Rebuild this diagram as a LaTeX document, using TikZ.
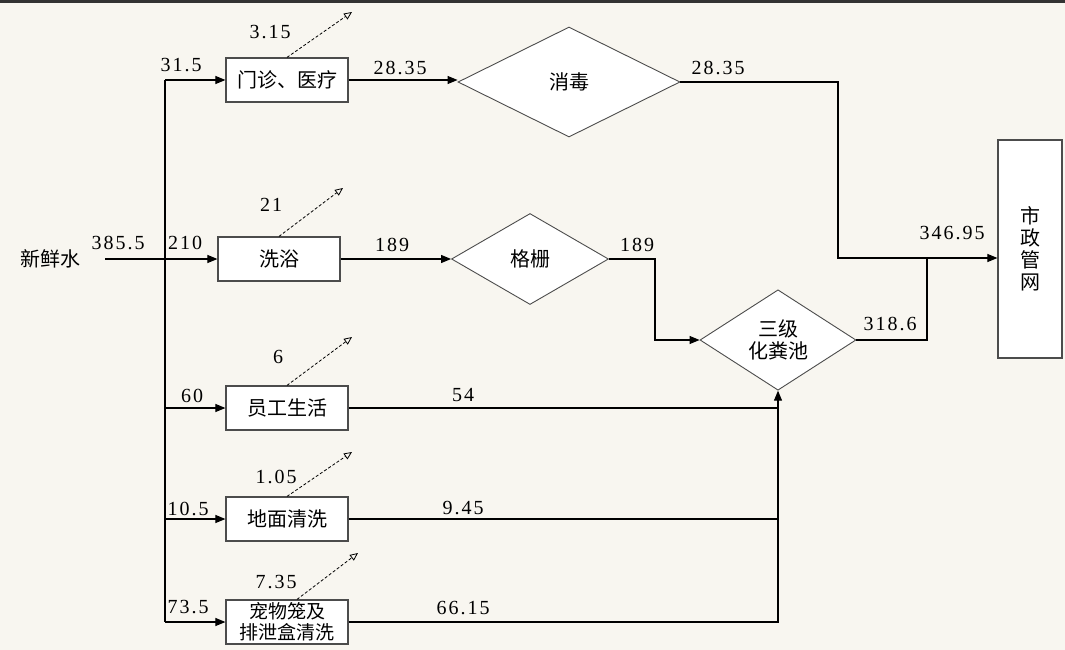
\documentclass[tikz,border=0pt]{standalone}
\usepackage{fontspec}
\setmainfont{Liberation Serif}
\newfontfamily\cjk{Noto Sans CJK SC}
\usetikzlibrary{shapes.geometric,arrows.meta}
\begin{document}
\begin{tikzpicture}[x=1pt,y=-1pt,
  every node/.style={inner sep=0pt},
  proc/.style={draw=black!70, line width=1.2pt, fill=white, minimum width=122pt, minimum height=44pt, font=\cjk\fontsize{20}{22}\selectfont, align=center},
  dia/.style={diamond, draw=black!70, line width=0.9pt, fill=white, font=\cjk\fontsize{20}{22}\selectfont, align=center},
  num/.style={font=\fontsize{20}{22}\selectfont\addfontfeature{LetterSpace=10}},
  flow/.style={line width=1.1pt, -{Triangle[length=10pt,width=8pt]}},
  pipe/.style={line width=1.1pt},
  loss/.style={line width=0.8pt, dashed, dash pattern=on 3pt off 2pt, -{Triangle[open,length=8pt,width=7pt]}}
]
\useasboundingbox (0,0) rectangle (1065,650);
\fill[fill={rgb,255:red,248;green,246;blue,240}] (0,0) rectangle (1065,650);
\fill[black!80] (0,0) rectangle (1065,3);

% nodes
\node[font=\cjk\fontsize{20}{22}\selectfont] (src) at (50,259) {新鲜水};
\node[proc] (mz) at (287,80) {门诊、医疗};
\node[proc] (xy) at (279,259) {洗浴};
\node[proc] (yg) at (287,408) {员工生活};
\node[proc] (dm) at (287,519) {地面清洗};
\node[proc, font=\cjk\fontsize{19}{21}\selectfont] (cw) at (287,622) {宠物笼及\\排泄盒清洗};
\node[dia, minimum width=222pt, minimum height=110pt] (xd) at (569,82) {消毒};
\node[dia, minimum width=157pt, minimum height=91pt] (gs) at (530,259) {格栅};
\node[dia, minimum width=156pt, minimum height=93pt] (hf) at (778,340) {三级\\化粪池};
\node[draw=black!70, line width=1.2pt, fill=white, minimum width=64pt, minimum height=218pt, font=\cjk\fontsize{20}{22}\selectfont, align=center] (sz) at (1030,249) {市\\政\\管\\网};

% coordinates
\coordinate (in) at (105,259);
\coordinate (t1) at (165,80);
\coordinate (t5) at (165,622);
\coordinate (j1) at (838,82);
\coordinate (j2) at (927,258);
\coordinate (g1) at (655,259);
\coordinate (c1) at (778,622);
\coordinate (d1) at (352,12);
\coordinate (d2) at (343,188);
\coordinate (d3) at (352,337);
\coordinate (d4) at (352,452);
\coordinate (d5) at (358,553);

% connectors
\draw[pipe] (t1) -- (t5);
\draw[flow] (in) -- (xy.west);
\draw[flow] (t1) -- (mz.west);
\draw[flow] (yg.west -| t1) -- (yg.west);
\draw[flow] (dm.west -| t1) -- (dm.west);
\draw[flow] (t5) -- (cw.west);
\draw[flow] (mz.east) -- (xd.west |- mz.east);
\draw[flow] (xy.east) -- (gs.west);
\draw[flow] (xd.east) -- (j1) |- (sz.west |- j2);
\draw[flow] (gs.east) -- (g1) |- (hf.west);
\draw[pipe] (hf.east) -| (j2);
\draw[pipe] (yg.east) -- (yg.east -| c1);
\draw[pipe] (dm.east) -- (dm.east -| c1);
\draw[flow] (cw.east) -- (c1) -- (hf.south);
\draw[loss] (mz.north) -- (d1);
\draw[loss] (xy.north) -- (d2);
\draw[loss] (yg.north) -- (d3);
\draw[loss] (dm.north) -- (d4);
\draw[loss] ([xshift=10pt]cw.north) -- (d5);

% labels
\node[num] (l1) at (181,65) {31.5};
\node[num] (l2) at (270,32) {3.15};
\node[num] (l3) at (400,68) {28.35};
\node[num] (l4) at (718,68) {28.35};
\node[num] (l5) at (118,243) {385.5};
\node[num] (l6) at (185,243) {210};
\node[num] (l7) at (271,205) {21};
\node[num] (l8) at (392,245) {189};
\node[num] (l9) at (637,245) {189};
\node[num] (l10) at (952,233) {346.95};
\node[num] (l11) at (890,324) {318.6};
\node[num] (l12) at (192,396) {60};
\node[num] (l13) at (278,357) {6};
\node[num] (l14) at (463,395) {54};
\node[num] (l15) at (188,509) {10.5};
\node[num] (l16) at (276,477) {1.05};
\node[num] (l17) at (463,508) {9.45};
\node[num] (l18) at (188,607) {73.5};
\node[num] (l19) at (276,582) {7.35};
\node[num] (l20) at (463,608) {66.15};
\end{tikzpicture}
\end{document}
